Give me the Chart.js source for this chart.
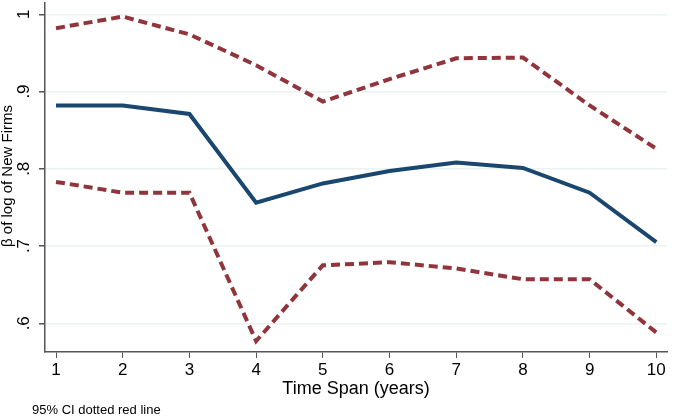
<!DOCTYPE html>
<html>
<head>
<meta charset="utf-8">
<script src="https://cdn.jsdelivr.net/npm/chart.js@4.4.1/dist/chart.umd.min.js"></script>
<style>
  html, body { margin: 0; padding: 0; background: #fff; }
  #wrap { width: 674px; height: 418px; }
</style>
</head>
<body>
<div id="wrap"><canvas id="grafico" width="674" height="418"></canvas></div>
<script>
// datos
const years = [1, 2, 3, 4, 5, 6, 7, 8, 9, 10];
const betaEst = [0.882, 0.882, 0.871, 0.756, 0.781, 0.797, 0.808, 0.801, 0.769, 0.705];
const ciUpper = [0.982, 0.997, 0.974, 0.934, 0.887, 0.916, 0.943, 0.944, 0.882, 0.826];
const ciLower = [0.783, 0.769, 0.769, 0.577, 0.675, 0.679, 0.671, 0.657, 0.657, 0.588];
const yTicks = [0.6, 0.7, 0.8, 0.9, 1];
const yTickLabels = [".6", ".7", ".8", ".9", "1"];

const FONT = "'Liberation Sans', Arial, sans-serif";

function toPoints(vals) {
  return years.map((x, i) => ({ x: x, y: vals[i] }));
}

// plugin para textos estilo Stata (etiquetas y rotadas, títulos, nota)
const textosStata = {
  id: "textosStata",
  afterDraw(chart) {
    const ctx = chart.ctx;
    const yScale = chart.scales.y;
    const area = chart.chartArea;
    ctx.save();
    ctx.fillStyle = "#000";
    // etiquetas del eje y, rotadas
    ctx.font = "17px " + FONT;
    ctx.textAlign = "center";
    ctx.textBaseline = "middle";
    yTicks.forEach((v, i) => {
      const py = yScale.getPixelForValue(v);
      ctx.save();
      ctx.translate(24, py);
      ctx.rotate(-Math.PI / 2);
      ctx.fillText(yTickLabels[i], 0, 0);
      ctx.restore();
    });
    // título eje y
    ctx.font = "15px " + FONT;
    ctx.save();
    ctx.translate(8, 176);
    ctx.rotate(-Math.PI / 2);
    ctx.fillText("\u03B2 of log of New Firms", 0, 0);
    ctx.restore();
    // título eje x
    ctx.font = "18px " + FONT;
    ctx.fillText("Time Span (years)", (area.left + area.right) / 2, 389);
    // nota
    ctx.font = "13px " + FONT;
    ctx.textAlign = "left";
    ctx.fillText("95% CI dotted red line", 32, 410);
    ctx.restore();
  }
};

new Chart(document.getElementById("grafico").getContext("2d"), {
  type: "line",
  data: {
    datasets: [
      {
        label: "Upper CI",
        data: toPoints(ciUpper),
        borderColor: "#90353b",
        borderWidth: 4,
        borderDash: [9, 5],
        pointRadius: 0,
        tension: 0,
        fill: false
      },
      {
        label: "Lower CI",
        data: toPoints(ciLower),
        borderColor: "#90353b",
        borderWidth: 4,
        borderDash: [9, 5],
        pointRadius: 0,
        tension: 0,
        fill: false
      },
      {
        label: "Beta",
        data: toPoints(betaEst),
        borderColor: "#1a476f",
        borderWidth: 4,
        pointRadius: 0,
        tension: 0,
        fill: false
      }
    ]
  },
  options: {
    responsive: false,
    animation: false,
    devicePixelRatio: 1,
    layout: { padding: { top: 3, right: 7, left: 0, bottom: 0 } },
    plugins: {
      legend: { display: false },
      tooltip: { enabled: false }
    },
    scales: {
      x: {
        type: "linear",
        min: 0.835,
        max: 10.16,
        afterBuildTicks: (scale) => { scale.ticks = years.map(v => ({ value: v })); },
        afterFit: (scale) => { scale.height = 66; },
        grid: {
          drawOnChartArea: false,
          drawTicks: true,
          tickLength: 6,
          tickColor: "#555",
          color: "#555"
        },
        border: { display: true, color: "#555", width: 1.5 },
        ticks: {
          color: "#000",
          font: { family: FONT, size: 17 },
          padding: 2,
          maxRotation: 0,
          autoSkip: false
        }
      },
      y: {
        type: "linear",
        min: 0.5628,
        max: 1.0146,
        afterBuildTicks: (scale) => { scale.ticks = yTicks.map(v => ({ value: v })); },
        afterFit: (scale) => { scale.width = 45; },
        grid: {
          drawOnChartArea: true,
          color: "#eaf2f3",
          lineWidth: 1.5,
          drawTicks: true,
          tickLength: 6,
          tickColor: "#555"
        },
        border: { display: true, color: "#555", width: 1.5 },
        ticks: { display: false }
      }
    }
  },
  plugins: [textosStata]
});
</script>
</body>
</html>
